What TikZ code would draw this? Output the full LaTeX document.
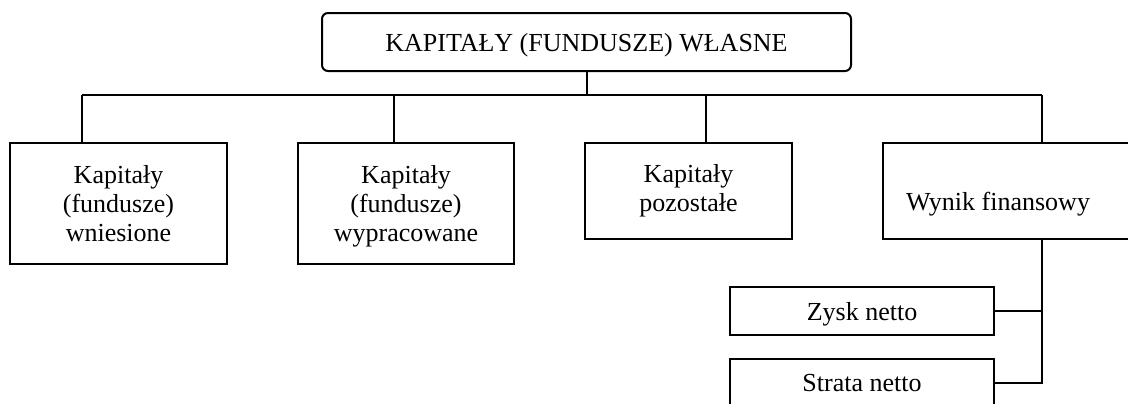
\documentclass[tikz,border=0pt]{standalone}
\usepackage{fontspec}
\setmainfont{Liberation Serif}
\begin{document}
\begin{tikzpicture}[x=0.5pt,y=-0.5pt,
  every node/.style={font=\fontsize{13}{14.7}\selectfont, align=center, inner sep=0pt},
  box/.style={draw, line width=1pt},
  topbox/.style={box, rounded corners=3pt},
  flat/.style={text depth=0pt},
  link/.style={line width=1pt}]
\useasboundingbox (0,0) rectangle (1128,403);
\clip (0,0) rectangle (1128,403);

% root
\node[topbox, flat, minimum width=264.5pt, minimum height=29pt] (root) at (586.5,42) {KAPITAŁY (FUNDUSZE) WŁASNE};

% second level
\node[box, minimum width=108.5pt, minimum height=60.5pt] (wnies) at (118.5,203.5) {Kapitały\\(fundusze)\\wniesione};
\node[box, flat, minimum width=108pt, minimum height=60.5pt] (wypr) at (406,203.5) {Kapitały\\(fundusze)\\wypracowane};
\node[box, minimum width=103.5pt, minimum height=48pt] (pozo) at (688.5,191) {Kapitały\\pozostałe};
\node[box, minimum width=128.5pt, minimum height=48pt] (wynik) at (1011.5,191) {};
\node[flat] (wyniktxt) at (998,201) {Wynik finansowy};

% third level
\node[box, flat, minimum width=132pt, minimum height=24pt] (zysk) at (862,311) {Zysk netto};
\node[box, flat, minimum width=132pt, minimum height=24pt] (strata) at (862,383) {Strata netto};

% bus coordinates
\coordinate (busL) at (82,95);
\coordinate (busR) at (1042,95);
\coordinate (c2) at (394,95);
\coordinate (c3) at (706,95);

% connectors
\draw[link] (root.south) -- (root.south |- busL);
\draw[link] (busL) -- (busR);
\draw[link] (busL) -- (busL |- wnies.north);
\draw[link] (c2) -- (c2 |- wypr.north);
\draw[link] (c3) -- (c3 |- pozo.north);
\draw[link] (busR) -- (busR |- wynik.north);
\draw[link] (busR |- wynik.south) -- (busR |- strata.east) -- (strata.east);
\draw[link] (zysk.east) -- (zysk.east -| busR);
\end{tikzpicture}
\end{document}
